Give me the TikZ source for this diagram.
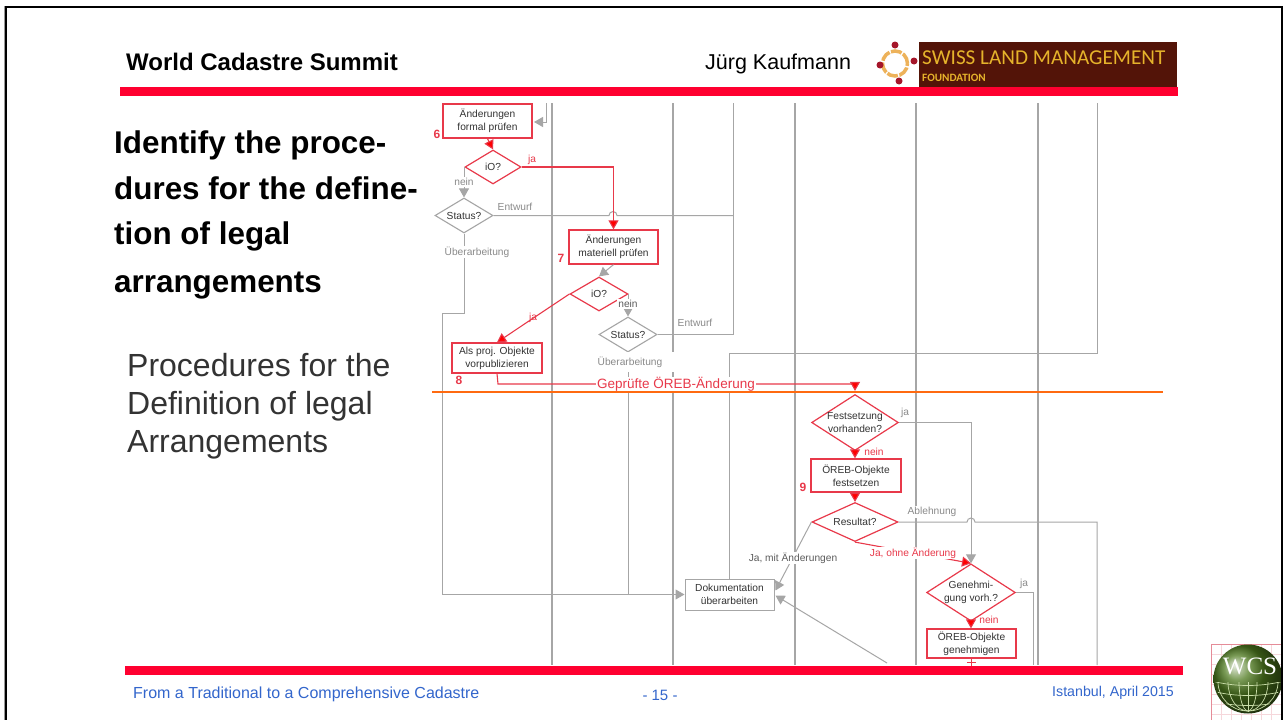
\documentclass[tikz,border=0pt]{standalone}
\usepackage{fontspec}
\setmainfont{Liberation Sans}
\newfontfamily\logofont{Carlito}
\newfontfamily\wcsfont{Liberation Serif}
\usetikzlibrary{arrows.meta,shapes.geometric,calc}
\definecolor{redbar}{HTML}{FF0030}
\definecolor{fred}{HTML}{E8394A}
\definecolor{fgray}{HTML}{A6A6A6}
\definecolor{ftext}{HTML}{333333}
\definecolor{lblgray}{HTML}{8A8A8A}
\definecolor{orangeline}{HTML}{FF6A10}
\definecolor{footblue}{HTML}{3366CC}
\definecolor{brownlogo}{HTML}{531408}
\definecolor{goldlogo}{HTML}{E5B32B}
\definecolor{dotred}{HTML}{A5162A}
\definecolor{ringgold}{HTML}{EDB25A}
\definecolor{pinkgrid}{HTML}{E58C98}
\definecolor{globe}{HTML}{4E7A1E}
\definecolor{gridgreen}{HTML}{C9DDA8}
\tikzset{
  x=1pt,y=-1pt,
  gl/.style={draw=fgray,line width=1pt},
  rl/.style={draw=fred,line width=1.1pt},
  ga/.style={gl,-{Triangle[length=9pt,width=10pt,fill=fgray]}},
  ra/.style={rl,-{Triangle[length=9pt,width=10pt,fill=red]}},
  ftxt/.style={font=\fontsize{10.2}{13}\selectfont,text=ftext,align=center,inner sep=0pt},
  rbox/.style={ftxt,draw=fred,line width=1.3pt,fill=white},
  gbox/.style={ftxt,draw=fgray,line width=1pt,fill=white},
  rdia/.style={ftxt,shape=diamond,aspect=1.7,draw=fred,line width=1.2pt,fill=white},
  gdia/.style={ftxt,shape=diamond,aspect=1.7,draw=fgray,line width=1.1pt,fill=white},
  glab/.style={font=\fontsize{10.2}{12}\selectfont,text=lblgray,fill=white,inner sep=1pt},
  dlab/.style={font=\fontsize{10.2}{12}\selectfont,text=ftext!80,fill=white,inner sep=1pt},
  rlab/.style={font=\fontsize{10.2}{12}\selectfont,text=fred,inner sep=1pt},
  rnum/.style={font=\bfseries\fontsize{12}{12}\selectfont,text=fred,inner sep=0pt},
  head/.style={font=\bfseries\fontsize{24}{24}\selectfont,text=black,inner sep=0pt,anchor=west},
  headr/.style={font=\fontsize{21.5}{22}\selectfont,text=black,inner sep=0pt,anchor=west},
  titletxt/.style={font=\bfseries\fontsize{31.4}{32}\selectfont,text=black,inner sep=0pt,anchor=base west},
  bodytxt/.style={font=\fontsize{32}{32}\selectfont,text=ftext,inner sep=0pt,anchor=base west},
  foot/.style={font=\fontsize{16}{16}\selectfont,text=footblue,inner sep=0pt},
  bar/.style={fill=redbar,draw=none},
  vlane/.style={draw=fgray,line width=1.2pt},
  dot/.style={circle,fill=dotred,draw=none,minimum size=7pt,inner sep=0pt},
}
\begin{document}
\begin{tikzpicture}
\useasboundingbox (0,0) rectangle (1283,720);
\fill[white] (0,0) rectangle (1283,720);

% swimlanes
\coordinate (l1t) at (552,103); \coordinate (l1b) at (552,665);
\coordinate (l2t) at (673,103); \coordinate (l2b) at (673,665);
\coordinate (l3t) at (795,103); \coordinate (l3b) at (795,665);
\coordinate (l4t) at (916,103); \coordinate (l4b) at (916,665);
\coordinate (l5t) at (1038,103); \coordinate (l5b) at (1038,665);
\draw[vlane] (l1t)--(l1b);
\draw[vlane] (l2t)--(l2b);
\draw[vlane] (l3t)--(l3b);
\draw[vlane] (l4t)--(l4b);
\draw[vlane] (l5t)--(l5b);

% orange milestone
\coordinate (o1) at (432,392); \coordinate (o2) at (1163,392);

% nodes
\node[rbox,minimum width=89pt,minimum height=34pt] (b6) at (487.5,121) {Änderungen\\formal prüfen};
\node[rdia,minimum width=56pt,minimum height=34pt] (d6) at (493,167) {iO?};
\node[gdia,minimum width=58pt,minimum height=35pt] (s6) at (464,215.5) {Status?};
\node[rbox,minimum width=89pt,minimum height=34pt] (b7) at (613.5,247) {Änderungen\\materiell prüfen};
\node[rdia,minimum width=58pt,minimum height=34pt] (d7) at (599,294) {iO?};
\node[gdia,minimum width=58pt,minimum height=35pt] (s7) at (628,334.5) {Status?};
\node[rbox,minimum width=90pt,minimum height=30pt] (b8) at (497,358) {Als proj. Objekte\\vorpublizieren};
\node[gbox,minimum width=89pt,minimum height=31pt] (doc) at (729.5,594.5) {Dokumentation\\überarbeiten};
\node[rdia,aspect=1.55,minimum width=86pt,minimum height=51pt] (d9) at (855,422.5) {Festsetzung\\vorhanden?};
\node[rbox,minimum width=90pt,minimum height=33pt] (b9) at (856,475.5) {ÖREB-Objekte\\festsetzen};
\node[rdia,minimum width=86pt,minimum height=39pt] (r9) at (855,522) {Resultat?};
\node[rdia,aspect=1.55,minimum width=86pt,minimum height=51pt] (d10) at (971,592.5) {Genehmi-\\gung vorh.?};
\node[rbox,minimum width=89pt,minimum height=29pt] (b10) at (971.5,643.5) {ÖREB-Objekte\\genehmigen};

% free ends
\coordinate (topin) at (546,103);
\coordinate (topelbow) at (546,122);
\coordinate (topend) at (534,122);
\coordinate (e1t) at (733,103);
\coordinate (ub1) at (464,313);
\coordinate (ub2) at (442,313);
\coordinate (m1) at (729.5,353);
\coordinate (m2) at (1097,353);
\coordinate (m3) at (1097,103);
\coordinate (rejb) at (1097,665);
\coordinate (jappb) at (1033,665);
\coordinate (back) at (887,663);
\coordinate (st7b) at (628,594.5);
\coordinate (j1) at (971,422.5);

% gray connectors
\draw[ga] (topin)--(topelbow)--(topend);
\draw[gl] (s6.east)--(609,215.5) arc[start angle=180,end angle=0,radius=4pt]--(e1t|-s6.east);
\draw[gl] (e1t)--(e1t|-s7.east)--(s7.east);
\draw[ga] (d6.west)-|(s6.north);
\draw[ga] (s6.south)--(ub1)--(ub2)--(ub2|-doc.west)--(doc.west);
\draw[gl] (s7.south)--(st7b);
\draw[ga] (b7.south)--(d7.north);
\draw[ga] (d7.east)-|(s7.north);
\draw[gl] (doc.north)--(m1)--(m2)--(m3);
\draw[ga] (d9.east)--(j1)--(d10.north);
\draw[gl] (r9.east)--(967,522) arc[start angle=180,end angle=0,radius=4pt]--(m2|-r9.east)--(rejb);
\draw[gl] (d10.east)-|(jappb);
\draw[ga] (r9.west)--($(doc.east)+(1,-4)$);
\draw[ga] (back)--($(doc.east)+(1,1)$);

% orange line and red connectors
\draw[orangeline,line width=2.2pt] (o1)--(o2);
\draw[ra] (b6.south)--(d6.north);
\draw[ra] (d6.east)--(613.5,167)--(b7.north);
\draw[ra] (d7.west)--(b8.north);
\draw[ra,shorten >=3pt] (b8.south)--(498,384)--(855,384)--(d9.north);
\draw[ra] (d9.south)--(b9.north-|d9.south);
\draw[ra] (b9.south-|r9.north)--(r9.north);
\draw[ra] (r9.south)--(d10.north);
\draw[ra] (d10.south)--(d10.south|-b10.north);
\draw[rl] (b10.south)--(971.5,666);
\draw[rl] (967,662.5)--(976,662.5);

% connector labels
\node[rlab] (lja1) at (532,160) {ja};
\node[glab] (ln1) at (464,182) {nein};
\node[glab,fill=none] (le1) at (515,206.5) {Entwurf};
\node[glab] (lu1) at (477,252) {Überarbeitung};
\node[rlab] (lja2) at (533,318) {ja};
\node[glab,text=ftext!80] (ln2) at (628,304) {nein};
\node[glab,fill=none] (le2) at (695,323) {Entwurf};
\node[glab,minimum width=102pt,minimum height=20pt] (lu2) at (630,362) {Überarbeitung};
\node[font=\fontsize{13.5}{14}\selectfont,text=fred,fill=white,inner xsep=1pt,inner ysep=0pt,minimum height=14pt] (lg) at (676,384) {Geprüfte ÖREB-Änderung};
\node[glab,fill=none] (lj9) at (905,413) {ja};
\node[rlab] (ln9) at (874,452) {nein};
\node[glab] (lab) at (932,512) {Ablehnung};
\node[rlab,fill=white] (lo) at (913,553) {Ja, ohne Änderung};
\node[dlab] (lm) at (793,558) {Ja, mit Änderungen};
\node[glab,fill=none] (lj10) at (1024,584) {ja};
\node[rlab] (ln10) at (989,620) {nein};

% numbers
\node[rnum] (n6) at (437,134) {6};
\node[rnum] (n7) at (561,258) {7};
\node[rnum] (n8) at (459,380) {8};
\node[rnum] (n9) at (803,487) {9};

% header and footer bars
\fill[bar] (120,87) rectangle (1178,96);
\fill[bar] (125,666) rectangle (1183,675);

% header
\node[head] (hl) at (126,62) {World Cadastre Summit};
\node[headr] (hr) at (705,64) {Jürg Kaufmann};

% Swiss Land Management logo
\fill[white] (876,41) rectangle (919,87);
\fill[brownlogo] (919,42) rectangle (1176.5,86.5);
\draw[ringgold,line width=3.5pt,dash pattern=on 11pt off 1.6pt] (895,63.5) circle[radius=12.5pt];
\node[dot] (ld1) at (895,45) {};
\node[dot] (ld2) at (880,65) {};
\node[dot] (ld3) at (914,61) {};
\node[dot] (ld4) at (899,81) {};
\node[font=\logofont\fontsize{21.2}{22}\selectfont,text=goldlogo,anchor=west,inner sep=0pt] (ls) at (922,58) {SWISS LAND MANAGEMENT};
\node[font=\logofont\bfseries\fontsize{11.2}{12}\selectfont,text=goldlogo,anchor=west,inner sep=0pt] (lf) at (922,78) {FOUNDATION};

% title
\node[titletxt] (t1) at (114,153) {Identify the proce-};
\node[titletxt] (t2) at (114,199) {dures for the define-};
\node[titletxt] (t3) at (114,244) {tion of legal};
\node[titletxt] (t4) at (114,292) {arrangements};
\node[bodytxt] (p1) at (127,376) {Procedures for the};
\node[bodytxt] (p2) at (127,414) {Definition of legal};
\node[bodytxt] (p3) at (127,452) {Arrangements};

% footer
\node[foot,anchor=west] (f1) at (133,694) {From a Traditional to a Comprehensive Cadastre};
\node[foot,font=\fontsize{15}{16}\selectfont] (f2) at (660,695) {- 15 -};
\node[foot,font=\fontsize{14.2}{16}\selectfont,anchor=east] (f3) at (1174,693) {Istanbul, April 2015};

% WCS logo
\begin{scope}
\clip (1211,644) rectangle (1283,720);
\foreach \i in {0,...,7}{\draw[pinkgrid!35,line width=.5pt] (1211+\i*10,644)--(1211+\i*10,720);
  \draw[pinkgrid!35,line width=.5pt] (1211,644+\i*10)--(1283,644+\i*10);}
\draw[pinkgrid,line width=1.2pt] (1283,644.5)--(1211.5,644.5)--(1211.5,720);
\shade[ball color=globe] (1248,679) circle[radius=34.5pt];
\begin{scope}
\clip (1212,682) rectangle (1284,715);
\clip (1248,679) circle[radius=33pt];
\foreach \r in {9,20,30}{\draw[gridgreen,line width=.7pt] (1248,682) ellipse[x radius=\r,y radius=29];}
\draw[gridgreen,line width=.7pt] (1248,682)--(1248,712);
\foreach \yy in {684,694,704}{\draw[gridgreen,line width=.7pt] (1212,\yy-3) .. controls (1235,\yy+3) and (1261,\yy+3) .. (1284,\yy-3);}
\end{scope}
\node[font=\wcsfont\fontsize{25}{25}\selectfont,text=white,inner sep=0pt] (wcs) at (1250,666) {WCS};
\end{scope}

% slide frame
\draw[black!40,line width=.8pt] (4.7,720)--(4.7,6);
\draw[black,line width=2.2pt] (6.2,720)--(6.2,7)--(1282.4,7)--(1282.4,720);
\end{tikzpicture}
\end{document}
